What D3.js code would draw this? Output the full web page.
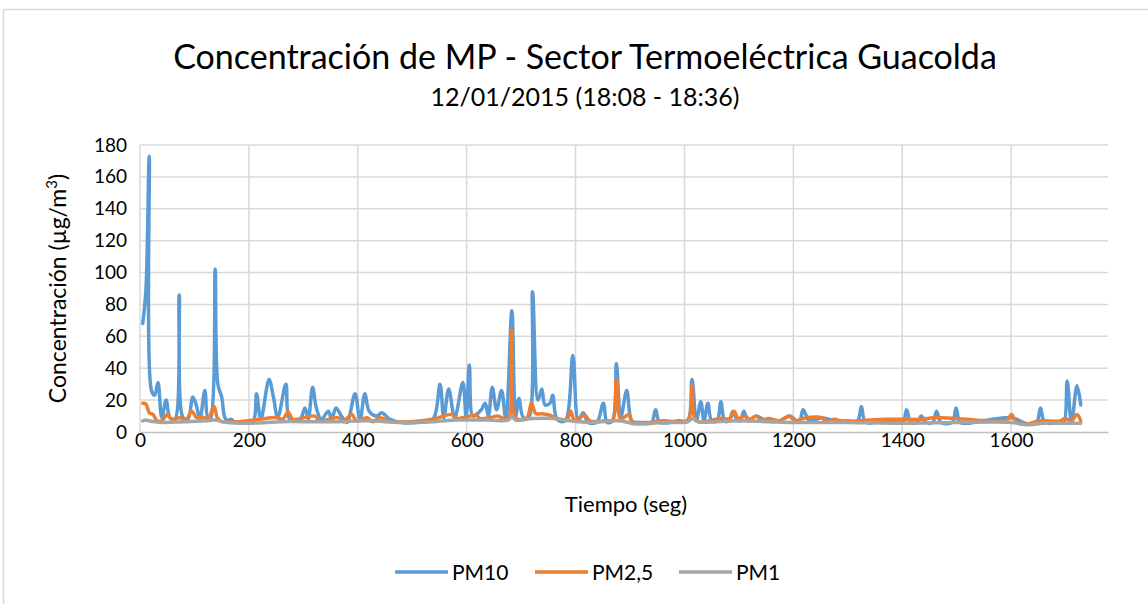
<!DOCTYPE html>
<html>
<head>
<meta charset="utf-8">
<script src="https://cdn.jsdelivr.net/npm/d3@7"></script>
<style>
  body { margin: 0; background: #fff; }
  text { font-family: Lato, "Open Sans", sans-serif; fill: #000; }
</style>
</head>
<body>
<div id="chart"></div>
<script>
// tiempo (seg) y concentraciones
const pm10Time = [5, 11, 17, 21, 27, 33, 40, 48, 55, 64, 72, 79, 88, 97, 104, 110, 119, 125, 130, 138, 143, 150, 156, 162, 167, 175, 190, 208, 214, 222, 237, 245, 253, 268, 275, 294, 303, 309, 317, 324, 333, 346, 352, 360, 370, 380, 395, 404, 413, 421, 435, 444, 459, 480, 510, 538, 551, 558, 567, 578, 593, 599, 605, 611, 618, 627, 634, 640, 647, 655, 664, 672, 683, 690, 696, 704, 714, 721, 731, 738, 744, 753, 758, 766, 781, 795, 805, 814, 823, 839, 851, 858, 868, 875, 883, 894, 903, 912, 930, 940, 947, 955, 990, 1006, 1014, 1022, 1030, 1036, 1043, 1050, 1060, 1067, 1074, 1082, 1089, 1098, 1103, 1109, 1117, 1132, 1151, 1175, 1194, 1206, 1212, 1218, 1230, 1252, 1276, 1300, 1318, 1325, 1333, 1370, 1401, 1408, 1416, 1428, 1435, 1444, 1456, 1463, 1471, 1492, 1499, 1507, 1548, 1601, 1631, 1647, 1654, 1662, 1690, 1697, 1703, 1711, 1721, 1728];
const pm10Values = [68, 90, 173, 26, 23, 31, 9, 20, 9, 8, 86, 9, 8, 22, 16, 8, 26, 8, 9, 102, 30, 22, 9, 7, 8, 6, 6, 7, 24, 8, 33, 22, 9, 30, 8, 8, 15, 8, 28, 15, 8, 13, 8, 15, 10, 6, 24, 7, 24, 13, 10, 12, 8, 6, 6, 8, 30, 9, 27, 9, 31, 9, 42, 10, 11, 14, 18, 10, 28, 14, 26, 8, 76, 10, 21, 9, 9, 88, 20, 27, 17, 18, 23, 8, 7, 48, 7, 12, 6, 6, 18, 6, 7, 43, 9, 26, 7, 6, 6, 6, 14, 6, 7, 7, 33, 7, 19, 7, 18, 7, 7, 19, 7, 7, 13, 7, 7, 13, 7, 10, 7, 7, 10, 7, 7, 14, 7, 9, 7, 7, 7, 16, 6, 7, 6, 14, 6, 6, 10, 6, 6, 13, 6, 6, 15, 6, 7, 9, 5, 6, 15, 6, 6, 6, 32, 6, 29, 17];

const pm25Time = [5, 11, 17, 24, 31, 40, 50, 58, 73, 85, 95, 104, 113, 125, 136, 142, 150, 180, 220, 251, 262, 272, 281, 321, 330, 364, 373, 389, 398, 417, 427, 441, 459, 538, 572, 581, 618, 624, 643, 657, 670, 677, 683, 690, 710, 719, 727, 738, 753, 765, 784, 791, 798, 817, 826, 855, 868, 875, 883, 898, 905, 960, 1006, 1014, 1022, 1065, 1084, 1091, 1099, 1111, 1120, 1132, 1141, 1154, 1175, 1192, 1203, 1218, 1252, 1261, 1276, 1291, 1340, 1371, 1435, 1457, 1499, 1592, 1601, 1610, 1631, 1652, 1690, 1699, 1711, 1721, 1728];
const pm25Values = [18, 17.5, 12, 11, 7, 7, 11, 8, 9, 8, 13, 9, 9.5, 8.5, 16, 9, 6.5, 6.5, 8, 9, 8, 12.5, 8, 10, 7, 9, 6.5, 11, 7, 9, 6.5, 9, 6.5, 8, 11, 8.5, 10.5, 8.5, 9, 10, 8, 8, 64, 9, 8.5, 18, 11.5, 11.5, 10.5, 8.5, 8, 13, 7.5, 10.5, 7, 7, 7.5, 33, 8, 11, 6, 7, 7.5, 29, 7, 8.5, 8.5, 13, 8.5, 10, 8, 10, 7, 8.5, 7, 10, 7, 8.5, 9, 6.5, 8, 6.5, 7.5, 8, 8, 9, 8.5, 7.5, 11, 6, 5, 7, 7, 8.5, 7, 11, 7];

const pm1Time = [5, 11, 17, 24, 40, 80, 120, 136, 160, 200, 260, 300, 360, 420, 480, 540, 580, 640, 677, 683, 690, 720, 760, 790, 830, 880, 913, 960, 1007, 1014, 1025, 1100, 1200, 1300, 1400, 1500, 1600, 1631, 1660, 1700, 1728];
const pm1Values = [7, 7.5, 7, 6.5, 6, 6.5, 7, 7.5, 6, 5.5, 6.5, 6.5, 6.5, 7, 6, 6.5, 7.5, 7.5, 7.5, 10, 7.5, 8.5, 8.5, 7, 6, 7, 5, 6, 6.5, 8.5, 6.5, 7, 6, 6, 5.5, 6, 6, 4.5, 5.5, 5.5, 5.5];

const xTicks = [0, 200, 400, 600, 800, 1000, 1200, 1400, 1600];
const yTicks = [0, 20, 40, 60, 80, 100, 120, 140, 160, 180];

const series = [
    { name: "PM10", time: pm10Time, values: pm10Values, color: "#5B9BD5" },
    { name: "PM2,5", time: pm25Time, values: pm25Values, color: "#ED7D31" },
    { name: "PM1", time: pm1Time, values: pm1Values, color: "#A5A5A5" }
];

const W = 1148, H = 604;
const margin = { top: 145, right: 40, bottom: 172, left: 140 },
    width = W - margin.left - margin.right,
    height = H - margin.top - margin.bottom;

const root = d3.select("#chart")
    .append("svg")
    .attr("width", W)
    .attr("height", H);

// borde del area del grafico
root.append("rect")
    .attr("x", 3.5).attr("y", 9.5)
    .attr("width", W + 20).attr("height", H + 20)
    .style("fill", "none")
    .style("stroke", "#D9D9D9")
    .style("stroke-width", 1.5);

root.append("text")
    .text("Concentración de MP - Sector Termoeléctrica Guacolda")
    .attr("x", 585).attr("y", 69)
    .style("font-size", "34px")
    .style("text-anchor", "middle");

root.append("text")
    .text("12/01/2015 (18:08 - 18:36)")
    .attr("x", 585).attr("y", 106)
    .style("font-size", "25px")
    .style("text-anchor", "middle");

const svg = root.append("g")
    .attr("transform", "translate(" + margin.left + "," + margin.top + ")");

const x = d3.scaleLinear().domain([0, 1778]).range([0, width]);
const y = d3.scaleLinear().domain([0, 180]).range([height, 0]);

// grilla
svg.append("g")
    .selectAll("line.h")
    .data(yTicks.slice(1))
    .enter()
    .append("line")
    .attr("x1", 0).attr("x2", width)
    .attr("y1", d => y(d)).attr("y2", d => y(d))
    .style("stroke", "#D9D9D9")
    .style("stroke-width", 1.5);

svg.append("g")
    .selectAll("line.v")
    .data(xTicks)
    .enter()
    .append("line")
    .attr("x1", d => x(d)).attr("x2", d => x(d))
    .attr("y1", 0).attr("y2", height)
    .style("stroke", "#D9D9D9")
    .style("stroke-width", 1.5);

const xAxis = svg.append("g")
    .attr("transform", `translate(0, ${height})`)
    .call(d3.axisBottom(x).tickValues(xTicks).tickFormat(d3.format("d")).tickSize(0).tickPadding(1));
xAxis.select(".domain").style("stroke", "#BFBFBF").style("stroke-width", 1.5);
xAxis.selectAll("text").style("font-size", "19px").style("font-family", "Lato, 'Open Sans', sans-serif");

const yAxis = svg.append("g")
    .call(d3.axisLeft(y).tickValues(yTicks).tickSize(0).tickPadding(13));
yAxis.select(".domain").remove();
yAxis.selectAll("text").style("font-size", "19px").style("font-family", "Lato, 'Open Sans', sans-serif");

svg.append("text")
    .text("Tiempo (seg)")
    .attr("transform", `translate(${width / 2 + 2}, ${height + 80})`)
    .style("font-size", "22px")
    .style("text-anchor", "middle");

const yText = svg.append("text")
    .attr("transform", "rotate(-90)")
    .attr("x", 0 - (height / 2))
    .attr("y", -74)
    .style("font-size", "23px")
    .style("text-anchor", "middle");
yText.append("tspan").text("Concentración (µg/m");
yText.append("tspan").text("3").attr("baseline-shift", "super").style("font-size", "15px");
yText.append("tspan").text(")");

svg.append("clipPath").attr("id", "clip")
    .append("rect").attr("width", width).attr("height", height);

const line = d3.line()
    .x(d => x(d[0]))
    .y(d => y(d[1]))
    .curve(d3.curveCatmullRom.alpha(0.5));

svg.append("g")
    .attr("clip-path", "url(#clip)")
    .selectAll("path")
    .data(series)
    .enter()
    .append("path")
    .attr("d", s => line(s.time.map((t, i) => [t, s.values[i]])))
    .style("fill", "none")
    .style("stroke", s => s.color)
    .style("stroke-width", 3.5)
    .style("stroke-linejoin", "round")
    .style("stroke-linecap", "round");

// leyenda
const legendX = [395, 535, 679];
const legend = root.append("g")
    .selectAll("g")
    .data(series)
    .enter()
    .append("g")
    .attr("transform", (d, i) => `translate(${legendX[i]}, 572)`);

legend.append("line")
    .attr("x1", 0).attr("x2", 53)
    .style("stroke", d => d.color)
    .style("stroke-width", 3.5);

legend.append("text")
    .text(d => d.name)
    .attr("x", 57).attr("y", 7.5)
    .style("font-size", "21px");
</script>
</body>
</html>
